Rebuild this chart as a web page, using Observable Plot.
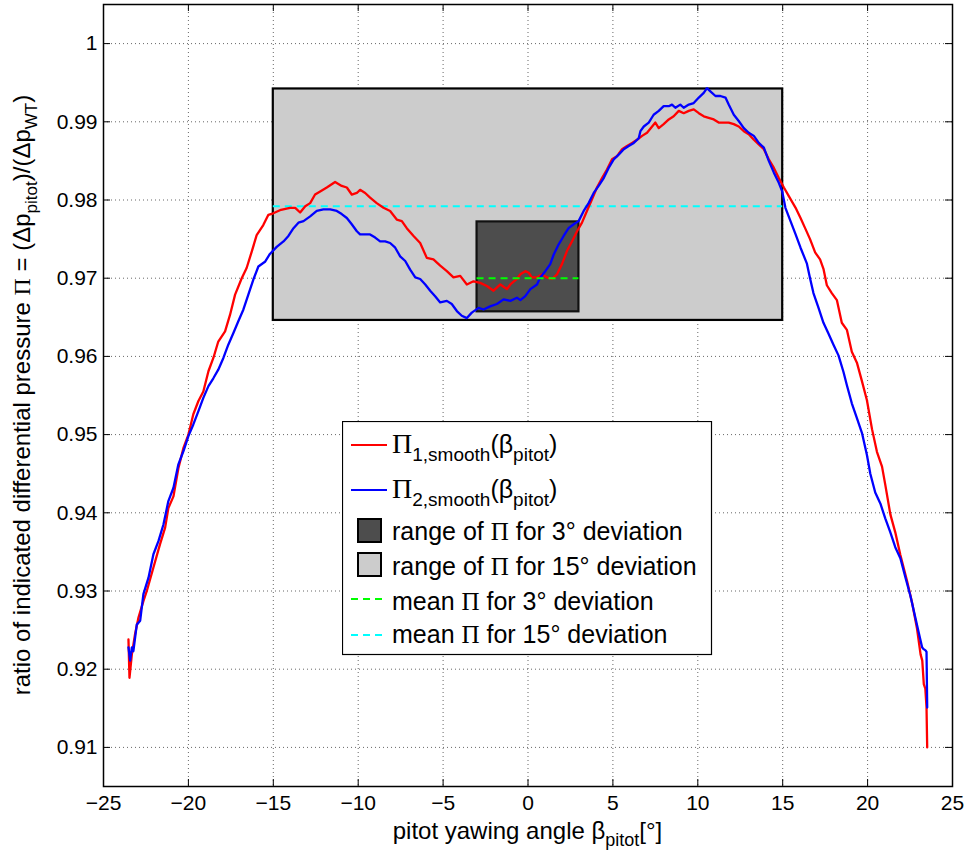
<!DOCTYPE html>
<html>
<head>
<meta charset="utf-8">
<script src="https://cdn.jsdelivr.net/npm/d3@7"></script>
<script src="https://cdn.jsdelivr.net/npm/@observablehq/plot@0.6"></script>
<style>
  body { margin: 0; background: #fff; font-family: "Liberation Sans", Arial, sans-serif; }
  #wrap { position: relative; width: 969px; height: 855px; }
  #legend { position: absolute; left: 342px; top: 421px; }
</style>
</head>
<body>
<div id="wrap"></div>
<script>
// ---- data ----
const xTicks = [-25, -20, -15, -10, -5, 0, 5, 10, 15, 20, 25];
const yTicks = [0.91, 0.92, 0.93, 0.94, 0.95, 0.96, 0.97, 0.98, 0.99, 1.0];
const xDomain = [-25, 25];
const yDomain = [0.905, 1.005];

// Pi_1,smooth (red)
const beta1 = [-23.53,-23.47,-23.33,-23.14,-22.94,-22.65,-22.45,-22.06,-21.67,-21.37,-21.18,-20.88,-20.59,-20.29,-20.00,-19.71,-19.41,-19.12,-18.82,-18.53,-18.24,-17.84,-17.55,-17.25,-16.86,-16.57,-16.27,-15.98,-15.59,-15.29,-15.00,-14.61,-14.02,-13.71,-13.42,-13.12,-12.83,-12.54,-12.24,-11.85,-11.36,-10.97,-10.67,-10.38,-10.08,-9.89,-9.59,-9.30,-8.91,-8.51,-8.12,-7.73,-7.43,-7.14,-6.74,-6.35,-5.96,-5.57,-5.17,-4.78,-4.39,-3.99,-3.60,-3.21,-2.81,-2.42,-2.03,-1.63,-1.24,-1.04,-0.65,-0.45,-0.16,0.04,0.23,0.53,0.82,1.12,1.41,1.71,2.00,2.30,2.59,2.89,3.18,3.47,3.77,4.06,4.36,4.65,4.95,5.24,5.54,5.83,6.13,6.42,6.72,7.01,7.31,7.50,7.70,7.99,8.29,8.58,8.88,9.17,9.47,9.76,10.06,10.35,10.64,10.94,11.23,11.53,11.82,12.12,12.41,12.71,13.00,13.30,13.59,13.89,14.18,14.48,14.77,15.07,15.36,15.76,16.05,16.32,16.61,16.91,17.20,17.40,17.60,17.89,18.19,18.48,18.78,19.07,19.37,19.67,19.96,20.26,20.55,20.85,21.04,21.34,21.63,21.93,22.32,22.62,22.91,23.12,23.22,23.31,23.40,23.47,23.51];
const pi1 = [0.9238,0.9189,0.9219,0.9245,0.9266,0.9287,0.9300,0.9330,0.9360,0.9381,0.9406,0.9421,0.9457,0.9483,0.9500,0.9526,0.9543,0.9555,0.9581,0.9598,0.9619,0.9632,0.9653,0.9679,0.9700,0.9713,0.9734,0.9755,0.9768,0.9781,0.9783,0.9787,0.9790,0.9790,0.9784,0.9792,0.9796,0.9807,0.9811,0.9816,0.9823,0.9818,0.9816,0.9807,0.9809,0.9813,0.9809,0.9803,0.9796,0.9790,0.9786,0.9775,0.9773,0.9764,0.9754,0.9745,0.9726,0.9724,0.9716,0.9709,0.9701,0.9703,0.9692,0.9696,0.9694,0.9690,0.9684,0.9692,0.9686,0.9692,0.9699,0.9705,0.9709,0.9707,0.9701,0.9701,0.9705,0.9701,0.9699,0.9705,0.9718,0.9735,0.9747,0.9760,0.9771,0.9786,0.9801,0.9816,0.9828,0.9839,0.9852,0.9856,0.9865,0.9869,0.9873,0.9877,0.9882,0.9886,0.9894,0.9899,0.9892,0.9897,0.9903,0.9907,0.9914,0.9911,0.9914,0.9916,0.9911,0.9907,0.9905,0.9903,0.9899,0.9899,0.9899,0.9897,0.9894,0.9888,0.9884,0.9877,0.9871,0.9865,0.9852,0.9841,0.9828,0.9816,0.9805,0.9790,0.9777,0.9764,0.9750,0.9733,0.9724,0.9712,0.9691,0.9681,0.9672,0.9643,0.9634,0.9606,0.9592,0.9568,0.9544,0.9507,0.9478,0.9459,0.9436,0.9398,0.9375,0.9346,0.9313,0.9285,0.9252,0.9219,0.9211,0.9181,0.9175,0.9151,0.9100];

// Pi_2,smooth (blue)
const beta2 = [-23.53,-23.43,-23.33,-23.24,-23.04,-22.84,-22.65,-22.35,-22.06,-21.76,-21.47,-21.18,-20.88,-20.59,-20.29,-20.00,-19.71,-19.41,-19.12,-18.82,-18.53,-18.24,-17.94,-17.65,-17.35,-17.06,-16.76,-16.47,-16.18,-15.88,-15.49,-15.20,-14.80,-14.40,-14.11,-13.81,-13.52,-13.22,-12.83,-12.44,-12.05,-11.65,-11.26,-10.97,-10.67,-10.38,-10.08,-9.89,-9.59,-9.30,-9.00,-8.71,-8.41,-8.12,-7.82,-7.53,-7.23,-6.94,-6.64,-6.35,-6.05,-5.76,-5.47,-5.17,-4.78,-4.49,-4.19,-3.90,-3.60,-3.31,-2.91,-2.62,-2.23,-1.83,-1.44,-1.04,-0.65,-0.45,-0.16,0.14,0.53,0.72,1.02,1.31,1.51,1.80,2.10,2.39,2.69,2.98,3.28,3.57,3.87,4.16,4.46,4.75,5.05,5.34,5.64,5.93,6.23,6.52,6.62,6.82,7.11,7.40,7.70,7.99,8.29,8.48,8.68,8.97,9.17,9.47,9.76,10.06,10.35,10.54,10.74,11.04,11.33,11.63,11.82,12.12,12.41,12.71,13.00,13.30,13.59,13.89,14.18,14.48,14.77,14.97,15.16,15.46,15.76,16.05,16.42,16.61,16.81,17.11,17.40,17.70,17.99,18.29,18.58,18.78,19.07,19.37,19.67,19.96,20.16,20.45,20.75,21.04,21.34,21.63,21.93,22.22,22.52,22.81,23.01,23.21,23.28,23.41,23.47,23.51];
const pi2 = [0.9228,0.9211,0.9228,0.9223,0.9257,0.9262,0.9296,0.9317,0.9347,0.9364,0.9385,0.9415,0.9432,0.9462,0.9479,0.9498,0.9513,0.9530,0.9547,0.9562,0.9572,0.9583,0.9598,0.9615,0.9630,0.9645,0.9660,0.9679,0.9698,0.9715,0.9721,0.9731,0.9740,0.9747,0.9754,0.9764,0.9771,0.9773,0.9779,0.9786,0.9788,0.9788,0.9786,0.9782,0.9777,0.9769,0.9760,0.9756,0.9756,0.9756,0.9752,0.9747,0.9747,0.9745,0.9739,0.9728,0.9722,0.9711,0.9701,0.9699,0.9692,0.9684,0.9677,0.9669,0.9671,0.9667,0.9658,0.9652,0.9649,0.9656,0.9662,0.9660,0.9664,0.9667,0.9673,0.9671,0.9675,0.9672,0.9677,0.9686,0.9692,0.9701,0.9709,0.9718,0.9730,0.9743,0.9754,0.9764,0.9769,0.9773,0.9786,0.9796,0.9809,0.9818,0.9828,0.9841,0.9852,0.9858,0.9865,0.9869,0.9873,0.9879,0.9888,0.9894,0.9899,0.9909,0.9914,0.9920,0.9920,0.9922,0.9918,0.9922,0.9918,0.9922,0.9924,0.9931,0.9937,0.9943,0.9939,0.9933,0.9933,0.9931,0.9922,0.9909,0.9901,0.9892,0.9886,0.9882,0.9873,0.9867,0.9850,0.9835,0.9822,0.9811,0.9790,0.9773,0.9756,0.9739,0.9719,0.9700,0.9681,0.9662,0.9643,0.9629,0.9615,0.9601,0.9580,0.9563,0.9540,0.9521,0.9502,0.9474,0.9450,0.9426,0.9412,0.9393,0.9375,0.9356,0.9342,0.9318,0.9294,0.9266,0.9247,0.9228,0.9226,0.9224,0.9222,0.9151];

// ranges and means
const rangeX15 = [-15, 15];
const rangeY15 = [0.9646, 0.9942];
const rangeX3 = [-3, 3];
const rangeY3 = [0.9657, 0.9772];
const mean15 = 0.9792;
const mean3 = 0.9700;

// ---- build ----
const W = 969, H = 855, mL = 103, mR = 17, mT = 4, mB = 69;
const innerW = W - mL - mR, innerH = H - mT - mB;

const curve1 = beta1.map((b, i) => ({b, p: pi1[i]}));
const curve2 = beta2.map((b, i) => ({b, p: pi2[i]}));
const box15 = [{x1: rangeX15[0], x2: rangeX15[1], y1: rangeY15[0], y2: rangeY15[1]}];
const box3 = [{x1: rangeX3[0], x2: rangeX3[1], y1: rangeY3[0], y2: rangeY3[1]}];

const gridStyle = {stroke: "#000", strokeOpacity: 0.6, strokeDasharray: "1,3", strokeWidth: 1};

const svg = Plot.plot({
  width: W, height: H,
  marginLeft: mL, marginRight: mR, marginTop: mT, marginBottom: mB,
  style: {fontFamily: "Liberation Sans, Arial, sans-serif", fontSize: "21px", background: "#fff", color: "#000"},
  x: {domain: xDomain, label: null},
  y: {domain: yDomain, label: null},
  marks: [
    Plot.gridX(xTicks, gridStyle),
    Plot.gridY(yTicks, gridStyle),
    Plot.rect(box15, {x1: "x1", x2: "x2", y1: "y1", y2: "y2", fill: "#cccccc", stroke: "#000", strokeWidth: 2.2}),
    Plot.rect(box3, {x1: "x1", x2: "x2", y1: "y1", y2: "y2", fill: "#4d4d4d", stroke: "#111", strokeWidth: 2.2}),
    Plot.ruleY([mean15], {x1: rangeX15[0], x2: rangeX15[1], stroke: "#00ffff", strokeWidth: 2, strokeDasharray: "7,5"}),
    Plot.line(curve1, {x: "b", y: "p", stroke: "#ff0000", strokeWidth: 2.3}),
    Plot.line(curve2, {x: "b", y: "p", stroke: "#0000ff", strokeWidth: 2.3}),
    Plot.ruleY([mean3], {x1: rangeX3[0], x2: rangeX3[1], stroke: "#00ff00", strokeWidth: 2, strokeDasharray: "7,5"}),
    Plot.frame({stroke: "#000", strokeWidth: 1.5}),
    Plot.ruleX(xTicks, {stroke: "#000", insetTop: innerH - 7}),
    Plot.ruleX(xTicks, {stroke: "#000", insetBottom: innerH - 7}),
    Plot.ruleY(yTicks, {stroke: "#000", insetRight: innerW - 7}),
    Plot.ruleY(yTicks, {stroke: "#000", insetLeft: innerW - 7}),
    Plot.axisX(xTicks, {tickSize: 0, tickPadding: 9, label: null, fontSize: 21}),
    Plot.axisY(yTicks, {tickSize: 0, tickPadding: 6, label: null, fontSize: 21,
      tickFormat: d => (d === 1 ? "1" : d.toFixed(2))})
  ]
});

document.getElementById("wrap").appendChild(svg);

// axis labels with subscripts
const sx = svg.scale("x"), sy = svg.scale("y");
const root = d3.select(svg);
const xl = root.append("text")
  .attr("x", sx.apply(0)).attr("y", 839)
  .attr("text-anchor", "middle")
  .attr("font-family", "Liberation Sans, Arial, sans-serif")
  .attr("font-size", 24).attr("fill", "#000");
xl.append("tspan").text("pitot yawing angle β");
xl.append("tspan").attr("font-size", 18).attr("dy", 7).text("pitot");
xl.append("tspan").attr("dy", -7).text("[°]");

const yMid = (sy.apply(yDomain[0]) + sy.apply(yDomain[1])) / 2;
const yl = root.append("text")
  .attr("transform", `translate(30,${yMid}) rotate(-90)`)
  .attr("text-anchor", "middle")
  .attr("font-family", "Liberation Sans, Arial, sans-serif")
  .attr("font-size", 24).attr("fill", "#000");
yl.append("tspan").text("ratio of indicated differential pressure ");
yl.append("tspan").attr("font-family", "Liberation Serif, serif").text("Π");
yl.append("tspan").text(" = (Δp");
yl.append("tspan").attr("font-size", 17).attr("dy", 7).text("pitot");
yl.append("tspan").attr("dy", -7).text(")/(Δp");
yl.append("tspan").attr("font-size", 17).attr("dy", 7).text("WT");
yl.append("tspan").attr("dy", -7).text(")");

// legend (inside axes, as in the reference)
const lg = d3.select("#wrap").append("svg").attr("id", "legend")
  .attr("width", 371).attr("height", 235);
lg.append("rect").attr("x", 0.5).attr("y", 0.5).attr("width", 369).attr("height", 233)
  .attr("fill", "#fff").attr("stroke", "#000").attr("stroke-width", 1.2);

const tx = 50;
function label(y, parts) {
  const t = lg.append("text").attr("x", tx).attr("y", y)
    .attr("font-family", "Liberation Sans, Arial, sans-serif").attr("font-size", 25).attr("fill", "#000");
  parts.forEach(p => {
    const s = t.append("tspan").text(p.t);
    if (p.serif) s.attr("font-family", "Liberation Serif, serif");
    if (p.size) s.attr("font-size", p.size);
    if (p.dy) s.attr("dy", p.dy);
  });
}
// row 1
lg.append("line").attr("x1", 9).attr("x2", 45).attr("y1", 24).attr("y2", 24).attr("stroke", "#ff0000").attr("stroke-width", 2);
label(32, [{t: "Π", serif: true, size: 28}, {t: "1,smooth", size: 19, dy: 8}, {t: "(β", dy: -8}, {t: "pitot", size: 19, dy: 8}, {t: ")", dy: -8}]);
// row 2
lg.append("line").attr("x1", 9).attr("x2", 45).attr("y1", 69).attr("y2", 69).attr("stroke", "#0000ff").attr("stroke-width", 2);
label(77, [{t: "Π", serif: true, size: 28}, {t: "2,smooth", size: 19, dy: 8}, {t: "(β", dy: -8}, {t: "pitot", size: 19, dy: 8}, {t: ")", dy: -8}]);
// row 3
lg.append("rect").attr("x", 16).attr("y", 98).attr("width", 23).attr("height", 23).attr("fill", "#4d4d4d").attr("stroke", "#000").attr("stroke-width", 2);
label(119, [{t: "range of "}, {t: "Π", serif: true}, {t: " for 3° deviation"}]);
// row 4
lg.append("rect").attr("x", 16).attr("y", 132).attr("width", 23).attr("height", 23).attr("fill", "#cccccc").attr("stroke", "#000").attr("stroke-width", 2);
label(154, [{t: "range of "}, {t: "Π", serif: true}, {t: " for 15° deviation"}]);
// row 5
lg.append("line").attr("x1", 9).attr("x2", 45).attr("y1", 178).attr("y2", 178).attr("stroke", "#00ff00").attr("stroke-width", 2).attr("stroke-dasharray", "7,5");
label(189, [{t: "mean "}, {t: "Π", serif: true}, {t: " for 3° deviation"}]);
// row 6
lg.append("line").attr("x1", 9).attr("x2", 45).attr("y1", 214).attr("y2", 214).attr("stroke", "#00ffff").attr("stroke-width", 2).attr("stroke-dasharray", "7,5");
label(222, [{t: "mean "}, {t: "Π", serif: true}, {t: " for 15° deviation"}]);
</script>
</body>
</html>
